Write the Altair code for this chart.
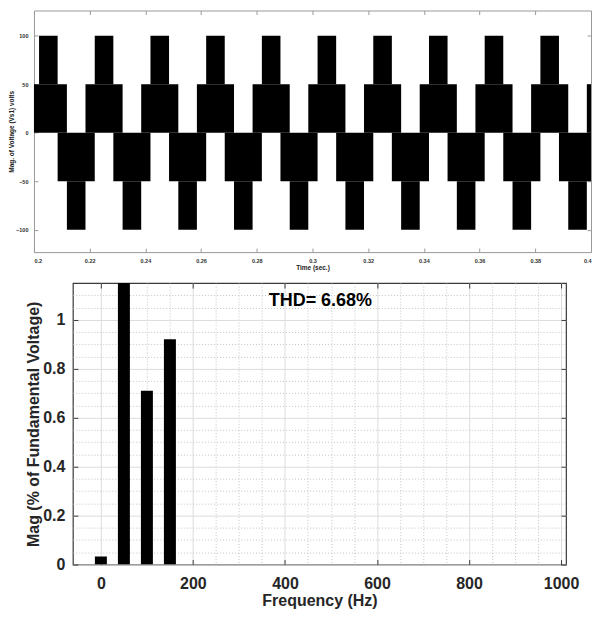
import altair as alt
import pandas as pd

FONT = "Liberation Sans"

# ---------------- top panel: 5-level output voltage (PWM switching bands) ----------------
cycle_start = [0.1985, 0.2185, 0.2385, 0.2585, 0.2785, 0.2985,
               0.3185, 0.3385, 0.3585, 0.3785, 0.3985]          # s
seg_from = [0.0, 0.00333, 0.0100, 0.01333]                       # s after cycle start
seg_to = [0.01333, 0.0100, 0.02333, 0.0200]
seg_lo = [0, 50, -50, -100]                                      # V
seg_hi = [50, 100, 0, -50]
time_ticks = [0.2, 0.22, 0.24, 0.26, 0.28, 0.3, 0.32, 0.34, 0.36, 0.38, 0.4]
volt_ticks = [-100, -50, 0, 50, 100]

# ---------------- bottom panel: harmonic spectrum ----------------
freq = [0, 50, 100, 150]
mag = [0.033, 100, 0.71, 0.92]
freq_ticks = [0, 50, 100, 150, 200, 250, 300, 350, 400, 450, 500, 550, 600,
              650, 700, 750, 800, 850, 900, 950, 1000]
freq_major = [0, 200, 400, 600, 800, 1000]
mag_ticks = [0, 0.05, 0.1, 0.15, 0.2, 0.25, 0.3, 0.35, 0.4, 0.45, 0.5, 0.55,
             0.6, 0.65, 0.7, 0.75, 0.8, 0.85, 0.9, 0.95, 1.0, 1.05, 1.1]
mag_major = [0, 0.2, 0.4, 0.6, 0.8, 1.0]
thd_text = ["THD= 6.68%"]
thd_freq = [477]      # annotation anchor (Hz)
thd_mag = [1.055]     # annotation anchor (baseline)

rows = []
for c in cycle_start:
    for f, t, lo, hi in zip(seg_from, seg_to, seg_lo, seg_hi):
        rows.append({"t0": c + f, "t1": c + t, "v0": lo, "v1": hi})
wave = pd.DataFrame(rows)
spec = pd.DataFrame({"freq": freq, "mag": mag})
thd = pd.DataFrame({"freq": thd_freq, "mag": thd_mag, "txt": thd_text})

# ---------- top chart ----------
TOPC = "#999999"
tx_scale = alt.Scale(domain=[0.2, 0.4], nice=False, zero=False)
ty_scale = alt.Scale(domain=[-123, 126], nice=False, zero=False)

small_lab = dict(labelFont=FONT, labelFontSize=5.5, labelFontWeight="bold",
                 labelColor="#333333", tickColor=TOPC, tickSize=4, offset=-4,
                 domain=False, grid=False, labelOverlap=False)
small_tit = dict(titleFont=FONT, titleFontSize=6.5, titleFontWeight="bold",
                 titleColor="#222222")

top_rects = alt.Chart(wave).mark_rect(color="black", clip=True).encode(
    x=alt.X("t0:Q", scale=tx_scale, title="Time (sec.)",
            axis=alt.Axis(values=time_ticks, format=".2~f", labelPadding=6,
                          labelFlush=True, titlePadding=1, **small_lab, **small_tit)),
    x2="t1:Q",
    y=alt.Y("v0:Q", scale=ty_scale, title="Mag. of Voltage (Vs1) volts",
            axis=alt.Axis(values=volt_ticks, format="d", labelPadding=6,
                          labelFlush=False, titlePadding=1, **small_lab, **small_tit)),
    y2="v1:Q",
)
top_box = alt.Chart(wave).mark_rect(opacity=0, clip=True).encode(
    x=alt.X("t0:Q", scale=tx_scale, title=None,
            axis=alt.Axis(orient="top", values=time_ticks, labels=False,
                          tickColor=TOPC, tickSize=4, offset=-4, domain=False, grid=False)),
    x2="t1:Q",
    y=alt.Y("v0:Q", scale=ty_scale, title=None,
            axis=alt.Axis(orient="right", values=volt_ticks, labels=False,
                          tickColor=TOPC, tickSize=4, offset=-4, domain=False, grid=False)),
    y2="v1:Q",
)
top = alt.layer(top_rects, top_box).resolve_axis(x="independent", y="independent").properties(
    width=558, height=242, view=alt.ViewBackground(stroke=TOPC, strokeWidth=1))

# ---------- bottom chart ----------
BOTC = "#3a3a3a"
fx_scale = alt.Scale(domain=[-50, 1000], nice=False, zero=False)
fy_scale = alt.Scale(domain=[0, 1.15], nice=False, zero=False)
x_major = "datum.value % 200 === 0"
y_major = "abs(datum.value * 5 - round(datum.value * 5)) < 1e-6"

big = dict(labelFont=FONT, labelFontSize=16, labelFontWeight="bold", labelColor="#262626",
           titleFont=FONT, titleFontSize=16, titleFontWeight="bold", titleColor="#262626",
           tickColor=BOTC, tickSize=5, offset=-5, domain=False, labelFlush=False,
           labelOverlap=False)

bars = alt.Chart(spec).mark_bar(color="black", width=12, clip=True).encode(
    x=alt.X("freq:Q", scale=fx_scale, title="Frequency (Hz)",
            axis=alt.Axis(values=freq_ticks, format="d",
                          labelExpr=x_major + " ? datum.label : ''",
                          tickOpacity={"condition": {"test": x_major, "value": 1}, "value": 0},
                          grid=True,
                          gridColor={"condition": {"test": x_major, "value": "#dcdcdc"}, "value": "#c4c4c4"},
                          gridDash={"condition": {"test": x_major, "value": []}, "value": [1, 2]},
                          labelPadding=11, titlePadding=1, **big)),
    y=alt.Y("mag:Q", scale=fy_scale, title="Mag (% of Fundamental Voltage)",
            axis=alt.Axis(values=mag_ticks, format="~g",
                          labelExpr=y_major + " ? datum.label : ''",
                          tickOpacity={"condition": {"test": y_major, "value": 1}, "value": 0},
                          grid=True,
                          gridColor={"condition": {"test": y_major, "value": "#dcdcdc"}, "value": "#c4c4c4"},
                          gridDash={"condition": {"test": y_major, "value": []}, "value": [1, 2]},
                          labelPadding=8, titlePadding=1, **big)),
)
bars_box = alt.Chart(spec).mark_bar(opacity=0, width=12, clip=True).encode(
    x=alt.X("freq:Q", scale=fx_scale, title=None,
            axis=alt.Axis(orient="top", values=freq_major, labels=False,
                          tickColor=BOTC, tickSize=5, offset=-5, domain=False, grid=False)),
    y=alt.Y("mag:Q", scale=fy_scale, title=None,
            axis=alt.Axis(orient="right", values=mag_major, labels=False,
                          tickColor=BOTC, tickSize=5, offset=-5, domain=False, grid=False)),
)
thd_mark = alt.Chart(thd).mark_text(font=FONT, fontSize=18, fontWeight="bold", color="black",
                                    align="center", baseline="alphabetic").encode(
    x=alt.X("freq:Q", scale=fx_scale, axis=None),
    y=alt.Y("mag:Q", scale=fy_scale, axis=None),
    text="txt:N",
)
bottom = alt.layer(bars, bars_box, thd_mark).resolve_axis(
    x="independent", y="independent").properties(
    width=494, height=282,
    view=alt.ViewBackground(stroke=BOTC, strokeWidth=1.2),
)

spacer = alt.Chart(pd.DataFrame({"a": [0]})).mark_point(opacity=0).encode(
    x=alt.value(0), y=alt.value(0)).properties(
    width=39, height=10, view=alt.ViewBackground(strokeOpacity=0))

bottom_row = alt.hconcat(spacer, bottom, spacing=0, bounds="flush")

chart = alt.vconcat(top, bottom_row, spacing=31, bounds="flush").properties(
    padding={"left": 0, "top": 1, "right": 0, "bottom": 0}, background="white"
).configure_view(stroke="transparent")

chart.save("out.html", embed_options={"renderer": "svg", "actions": False})
